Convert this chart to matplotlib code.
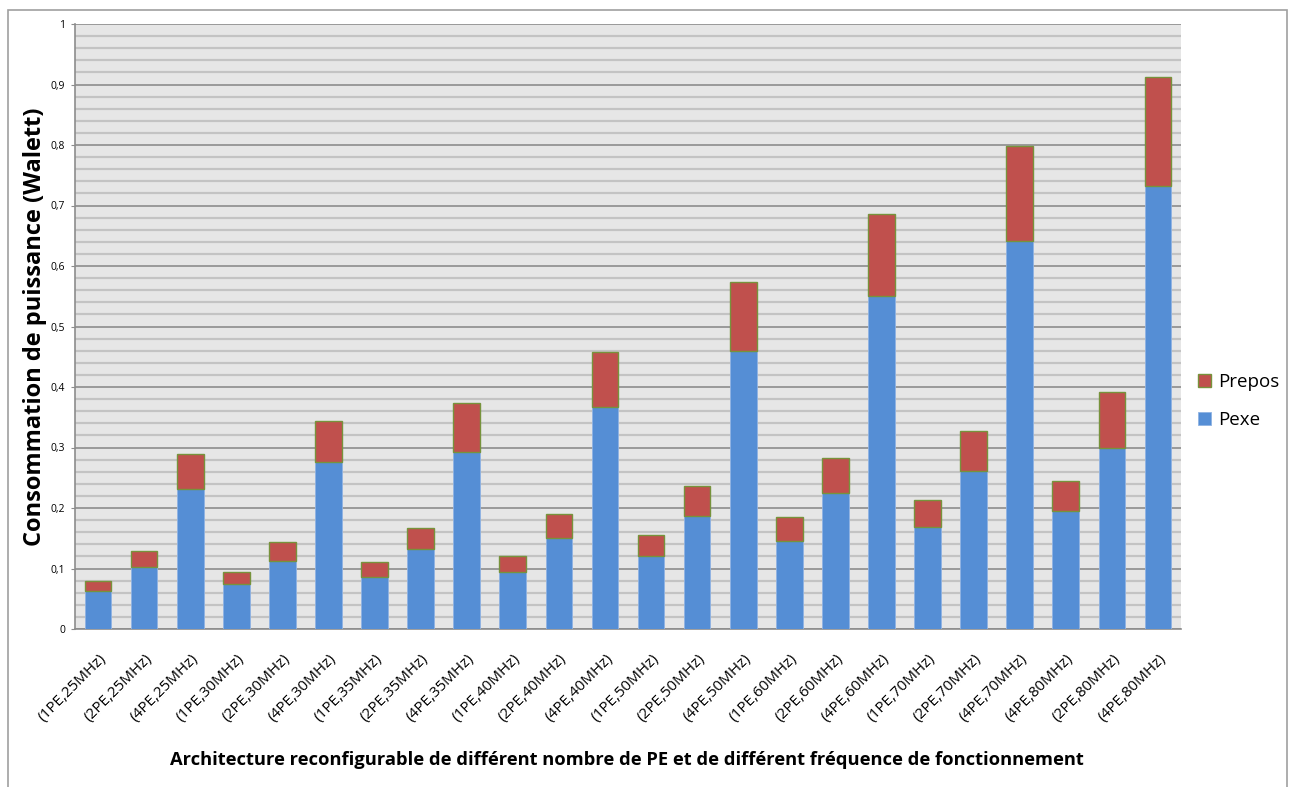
import matplotlib
matplotlib.use("Agg")
import matplotlib.pyplot as plt
import numpy as np
from matplotlib.patches import Rectangle

categories = ["(1PE,25MHz)", "(2PE,25MHz)", "(4PE,25MHz)",
              "(1PE,30MHz)", "(2PE,30MHz)", "(4PE,30MHz)",
              "(1PE,35MHz)", "(2PE,35MHz)", "(4PE,35MHz)",
              "(1PE,40MHz)", "(2PE,40MHz)", "(4PE,40MHz)",
              "(1PE,50MHz)", "(2PE,50MHz)", "(4PE,50MHz)",
              "(1PE,60MHz)", "(2PE,60MHz)", "(4PE,60MHz)",
              "(1PE,70MHz)", "(2PE,70MHz)", "(4PE,70MHz)",
              "(4PE,80MHz)", "(2PE,80MHz)", "(4PE,80MHz)"]

pexe = [0.062, 0.103, 0.231, 0.074, 0.113, 0.276, 0.086, 0.132, 0.293,
        0.094, 0.150, 0.367, 0.121, 0.187, 0.459, 0.146, 0.224, 0.550,
        0.169, 0.261, 0.641, 0.195, 0.299, 0.733]
total = [0.080, 0.129, 0.289, 0.095, 0.143, 0.343, 0.110, 0.167, 0.373,
         0.121, 0.190, 0.458, 0.155, 0.236, 0.573, 0.185, 0.282, 0.686,
         0.214, 0.328, 0.799, 0.245, 0.392, 0.913]
prepos = [round(t - p, 3) for t, p in zip(total, pexe)]

y_ticks = [0, 0.1, 0.2, 0.3, 0.4, 0.5, 0.6, 0.7, 0.8, 0.9, 1]
y_tick_labels = ["0", "0,1", "0,2", "0,3", "0,4", "0,5", "0,6", "0,7", "0,8", "0,9", "1"]

blue = "#558ED5"
red = "#C0504D"
edge_red = "#77933C"

fig = plt.figure(figsize=(12.89, 7.87), dpi=100)
ax = fig.add_axes([75/1289, (787-629)/787, (1181-75)/1289, (629-24)/787])
ax.set_facecolor("#E6E6E6")

# outer frame
fig.patches.append(Rectangle((8/1289, -0.01), (1287-8)/1289, (787-10)/787 + 0.01,
                             transform=fig.transFigure, fill=False,
                             edgecolor="#A0A0A0", linewidth=1.2))

x = np.arange(len(categories))
w = 0.58
ax.bar(x, pexe, width=w, color=blue, edgecolor="#8FB3E3", linewidth=0.6, zorder=3, label="Pexe")
ax.bar(x, prepos, bottom=pexe, width=w, color=red, edgecolor=edge_red, linewidth=1.0, zorder=3, label="Prepos")

ax.set_xlim(-0.5, len(categories) - 0.5)
ax.set_ylim(0, 1)
ax.set_yticks(y_ticks)
ax.set_yticklabels(y_tick_labels, fontsize=7.5, family="Open Sans")
ax.set_yticks(np.arange(0, 1.0001, 0.02), minor=True)
ax.grid(axis="y", which="minor", color="#C3C3C3", linewidth=1.6, zorder=0)
ax.grid(axis="y", which="major", color="#8C8C8C", linewidth=1.2, zorder=1)
ax.tick_params(axis="y", which="major", length=3, color="#8C8C8C", pad=4)
ax.tick_params(axis="y", which="minor", length=0)

ax.set_xticks(x)
ax.set_xticklabels(categories, rotation=45, ha="right", rotation_mode="anchor",
                   fontsize=11, family="Open Sans")
ax.tick_params(axis="x", length=0, pad=16)

for s in ["top", "right"]:
    ax.spines[s].set_visible(False)
for s in ["left", "bottom"]:
    ax.spines[s].set_color("#8C8C8C")
    ax.spines[s].set_linewidth(1.2)

ax.set_ylabel("Consommation de puissance (Walett)", fontsize=17, fontweight="bold",
              family="Open Sans")
ax.yaxis.set_label_coords(-28/1106, 0.5)
fig.text(627/1289, 1 - 760/787, "Architecture reconfigurable de différent nombre de PE et de différent fréquence de fonctionnement",
         ha="center", va="center", fontsize=13.2, fontweight="bold", family="Open Sans")

handles, labels = ax.get_legend_handles_labels()
leg = fig.legend(handles[::-1], labels[::-1], loc="center left",
                 bbox_to_anchor=(1181/1289, 1 - 401/787), frameon=False,
                 prop={"family": "Open Sans", "size": 13.5}, handlelength=0.7,
                 handleheight=0.7, handletextpad=0.4, labelspacing=1.05)

fig.savefig("out.png", dpi=100)
